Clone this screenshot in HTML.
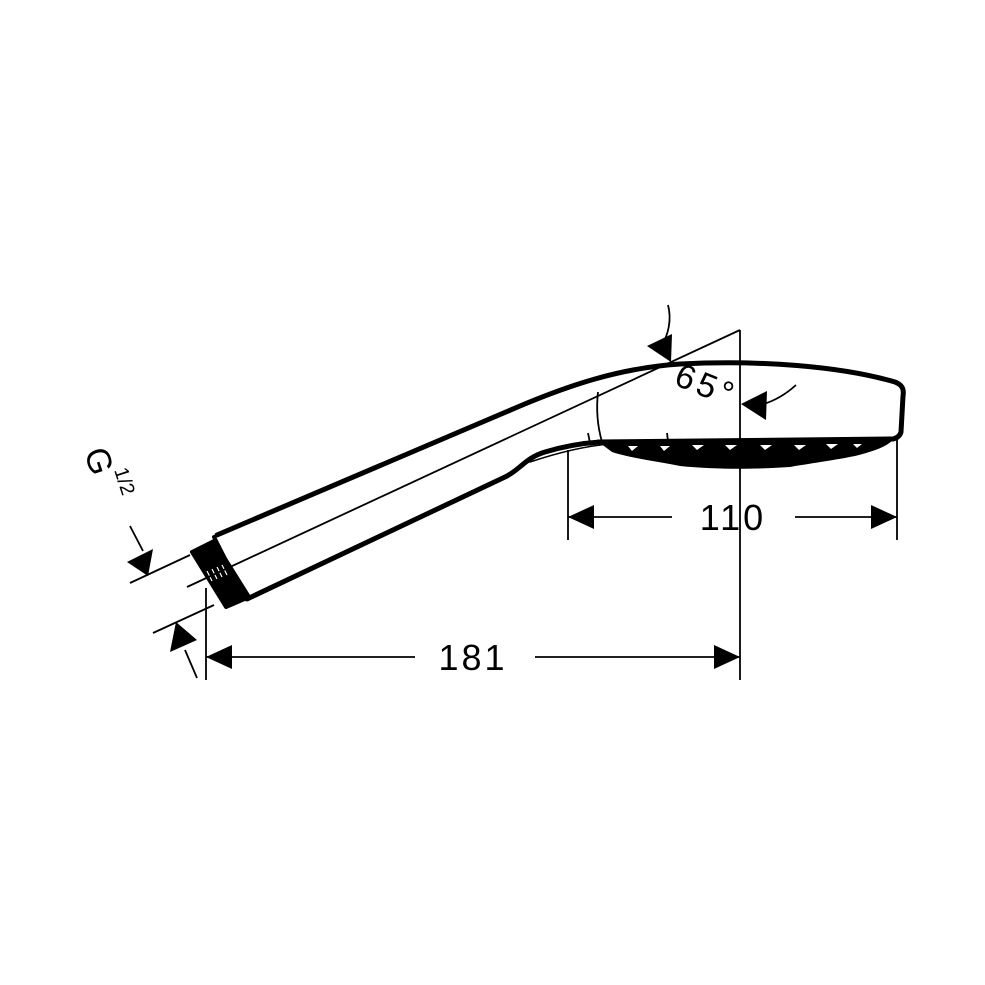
<!DOCTYPE html>
<html><head><meta charset="utf-8"><style>
html,body{margin:0;padding:0;background:#fff;width:985px;height:985px;overflow:hidden}
svg{display:block}
text{font-family:"Liberation Sans","DejaVu Sans",sans-serif;fill:#000}
</style></head><body>
<svg width="985" height="985" viewBox="0 0 985 985" xmlns="http://www.w3.org/2000/svg">
<g fill="none" stroke="#000" stroke-linecap="round" stroke-linejoin="round">
<path d="M217,535 L520,406 C570,385 620,368 680,364 C760,360 840,366 895,382 C903,385 904,390 903,396 L901,432 C900,436 897,438 893,439" stroke-width="5"/>
<path d="M598,442 L893,439" stroke-width="5"/>
<path d="M247,599 L505,477 C520,470 525,458 545,452 C565,446 585,443 600,442" stroke-width="5"/>
<path d="M530,462 C560,452 585,446 610,444" stroke-width="1.5"/>
<path d="M214,537 L245,598" stroke-width="4"/>
</g>
<path d="M600,443 L893,440 C885,448 870,452 855,456 C830,461 800,465 790,467 C760,469 720,470 680,466 C660,462 630,458 612,452 Z" fill="#000"/>
<g fill="#fff">
<polygon points="628,446 638,446 632,451"/><polygon points="660,446 670,446 664,451"/><polygon points="692,445 704,445 697,450"/>
<polygon points="725,445 737,445 730,450"/><polygon points="760,445 772,445 765,450"/><polygon points="794,445 806,445 799,450"/>
<polygon points="826,444 838,444 831,449"/><polygon points="853,444 862,444 857,448"/>
</g>
<polygon points="192,552 214,541 249,597 226,607" fill="#000" stroke="#000" stroke-width="4" stroke-linejoin="round"/>
<g stroke="#fff" stroke-width="1.2">
<line x1="207" y1="571" x2="212" y2="581"/><line x1="212" y1="569" x2="217" y2="579"/>
<line x1="217" y1="567" x2="222" y2="577"/><line x1="222" y1="565" x2="227" y2="575"/>
</g>
<g stroke="#000" stroke-width="1.8" fill="none">
<line x1="187" y1="587" x2="740" y2="330"/>
<line x1="740" y1="330" x2="740" y2="680"/>
<line x1="568" y1="450" x2="568" y2="540"/>
<line x1="897" y1="440" x2="897" y2="540"/>
<line x1="206" y1="588" x2="206" y2="680"/>
<line x1="206" y1="657" x2="415" y2="657"/>
<line x1="535" y1="657" x2="740" y2="657"/>
<line x1="568" y1="517" x2="672" y2="517"/>
<line x1="795" y1="517" x2="897" y2="517"/>
<line x1="130" y1="583" x2="190" y2="555"/>
<line x1="153" y1="633" x2="214" y2="605"/>
<line x1="130" y1="526" x2="143" y2="551"/>
<line x1="197" y1="678" x2="185" y2="650"/>
<path d="M668,305 C672,320 668,335 662,345"/>
<path d="M796,385 C785,395 772,402 760,405"/>
<path d="M598,392 C596,410 598,428 602,442"/>
<line x1="588" y1="433" x2="590" y2="443"/>
<line x1="667" y1="433" x2="668" y2="441"/>
</g>
<g fill="#000">
<polygon points="206,657 232,645 232,669"/>
<polygon points="740,657 714,645 714,669"/>
<polygon points="568,517 594,505 594,529"/>
<polygon points="897,517 871,505 871,529"/>
<polygon points="148,576 127,562 153,549"/>
<polygon points="176,622 170,652 197,640"/>
<polygon points="671,362 647,346 672,334"/>
<polygon points="741,404 767,391 766,420"/>
</g>
<text x="473" y="670" font-size="36" text-anchor="middle" letter-spacing="3">181</text>
<text x="733" y="530" font-size="36" text-anchor="middle" letter-spacing="3">110</text>
<text transform="translate(702,396) rotate(22)" font-size="34" text-anchor="middle" letter-spacing="4">65°</text>
<text transform="translate(84,452) rotate(72)" font-size="34">G</text>
<text transform="translate(114,470) rotate(72)" font-size="20">1/2</text>
</svg>
</body></html>
